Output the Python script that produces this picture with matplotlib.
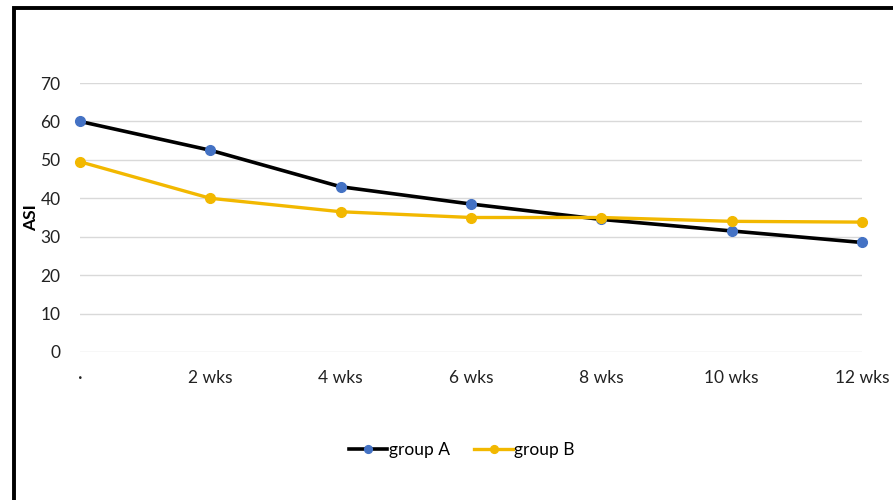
import matplotlib.pyplot as plt
from matplotlib.patches import Rectangle

# ASI scores over the follow-up period
weeks = ["\u00b7", "2 wks", "4 wks", "6 wks", "8 wks", "10 wks", "12 wks"]
group_a = [60, 52.5, 43, 38.5, 34.5, 31.5, 28.5]
group_b = [49.5, 40, 36.5, 35, 35, 34, 33.8]
y_ticks = [0, 10, 20, 30, 40, 50, 60, 70]

plt.rcParams['font.family'] = ['Lato', 'DejaVu Sans']

fig = plt.figure(figsize=(8.93, 5), dpi=100)
ax = fig.add_axes([80 / 893, 1 - 352 / 500, (862 - 80) / 893, (352 - 83) / 500])

x = list(range(len(weeks)))
ax.plot(x, group_a, color="black", lw=2.6, marker="o", ms=7,
        mfc="#4472C4", mec="#4472C4", label="group A", clip_on=False, zorder=3)
ax.plot(x, group_b, color="#F2B800", lw=2.4, marker="o", ms=7,
        mfc="#F2B800", mec="#F2B800", label="group B", clip_on=False, zorder=3)

ax.set_xlim(0, len(weeks) - 1)
ax.set_ylim(0, 70)
ax.set_yticks(y_ticks)
ax.set_xticks(x)
ax.set_xticklabels(weeks)
ax.tick_params(axis="both", length=0, labelsize=12.5, colors="#222222")
ax.tick_params(axis="y", pad=14)
ax.tick_params(axis="x", pad=13)
ax.yaxis.grid(True, color="#d9d9d9", lw=1)
ax.set_axisbelow(True)
for s in ax.spines.values():
    s.set_visible(False)

ax.set_ylabel("ASI", fontsize=12.5, fontweight="bold", va="center")
ax.yaxis.set_label_coords((31 - 80) / 782, 0.5)

leg = fig.legend(loc="center", bbox_to_anchor=(462 / 893, 1 - 450 / 500), ncol=2,
                 frameon=False, fontsize=12.5, handlelength=2.2, handletextpad=0.1,
                 columnspacing=1.4, markerscale=0.8)

# frame around the chart, cut off at the right and bottom
fig.patches.append(Rectangle((14 / 893, -0.1), 1.2, 1 - 8 / 500 + 0.1,
                             transform=fig.transFigure, fill=False,
                             edgecolor="black", lw=2.8))

fig.savefig("out.png", dpi=100)
